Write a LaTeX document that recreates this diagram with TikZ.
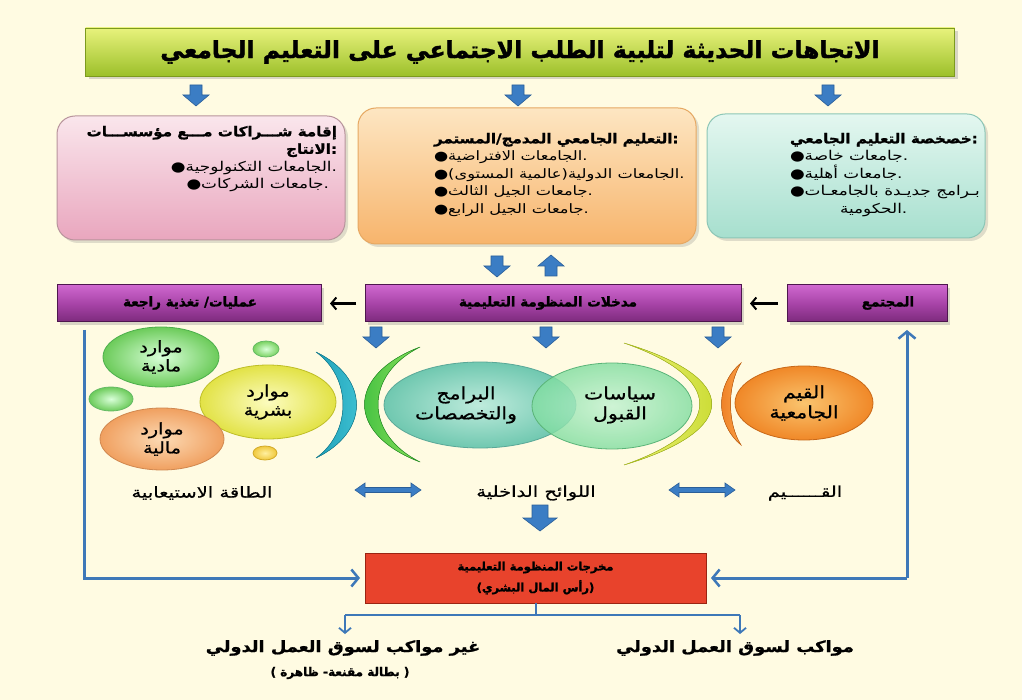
\documentclass[tikz,border=0pt]{standalone}
\usepackage{fontspec}
\newfontfamily\ar[Script=Arabic]{DejaVu Sans}
\newfontfamily\arI[Script=Arabic, FakeStretch=1.25]{DejaVu Sans}
\newfontfamily\arH[Script=Arabic, UprightFont={* Bold}, FakeStretch=1.12, FakeBold=1]{DejaVu Sans}
\newfontfamily\arT[Script=Arabic, UprightFont={* Bold}, FakeBold=1.5]{DejaVu Sans}
\newfontfamily\arO[Script=Arabic, UprightFont={* Bold}, FakeStretch=1.15, FakeBold=1]{DejaVu Sans}
\newfontfamily\arL[Script=Arabic, FakeStretch=1.3, FakeBold=0.6]{DejaVu Sans}
\newfontfamily\arE[Script=Arabic, FakeStretch=1.2, FakeBold=0.8]{DejaVu Sans}
\TeXXeTstate=1
\usetikzlibrary{shapes.geometric,arrows.meta,shadows,calc}
\newcommand{\artxt}[1]{{\beginR #1\endR}}
\definecolor{bgc}{HTML}{FFFBE2}
\definecolor{ttop}{HTML}{E8F27C}
\definecolor{tbot}{HTML}{9CC02A}
\definecolor{tedge}{HTML}{7C9A1E}
\definecolor{afill}{HTML}{3B7DC4}
\definecolor{aedge}{HTML}{2A5E98}
\definecolor{lblue}{HTML}{3E78B8}
\definecolor{pinkT}{HTML}{FAE6EC}
\definecolor{pinkB}{HTML}{E9A6BE}
\definecolor{pinkE}{HTML}{B8949C}
\definecolor{oraT}{HTML}{FDE6C2}
\definecolor{oraB}{HTML}{F7B46C}
\definecolor{oraE}{HTML}{E6A862}
\definecolor{tealT}{HTML}{E4F7F0}
\definecolor{tealB}{HTML}{A6DFCE}
\definecolor{tealE}{HTML}{8CC6B6}
\definecolor{purT}{HTML}{CF68CF}
\definecolor{purM}{HTML}{A844A8}
\definecolor{purB}{HTML}{7C2A7C}
\definecolor{purE}{HTML}{4E164E}
\definecolor{redF}{HTML}{E8432C}
\definecolor{redE}{HTML}{9A2412}
\tikzset{
  every node/.style={inner sep=0pt, outer sep=0pt},
  titlebox/.style={draw=tedge, line width=0.8pt, top color=ttop, bottom color=tbot,
    minimum width=869pt, minimum height=48pt,
    drop shadow={opacity=0.3, shadow xshift=3pt, shadow yshift=-3pt},
    font=\arT\fontsize{23.5}{26}\selectfont},
  topbox/.style={rounded corners=18pt, line width=1pt,
    drop shadow={opacity=0.25, shadow xshift=3pt, shadow yshift=-3pt}},
  boxtext/.style={font=\arI\fontsize{13.5}{17.5}\selectfont},
  purbar/.style={draw=purE, line width=1pt, top color=purT, bottom color=purB, middle color=purM,
    minimum height=37pt,
    drop shadow={opacity=0.3, shadow xshift=3pt, shadow yshift=-3pt}},
  purtext/.style={font=\arT\fontsize{13.5}{16}\selectfont},
  redbox/.style={draw=redE, line width=1pt, fill=redF, minimum width=341pt, minimum height=50pt,
    align=center, font=\arT\fontsize{11.5}{21}\selectfont},
  blob/.style={ellipse, line width=0.8pt, align=center,
    font=\arE\fontsize{16}{19}\selectfont},
  etext/.style={align=center, font=\arE\fontsize{17}{20}\selectfont},
  conn/.style={draw=lblue, line width=3pt, -{Straight Barb[length=7pt,width=17pt,line width=2.5pt]}},
  branch/.style={draw=lblue, line width=2pt},
  barr/.style={draw=lblue, line width=2pt, -{Straight Barb[length=5pt,width=12pt,line width=1.8pt]}},
  blk/.style={draw=black, line width=2.2pt, -{Straight Barb[length=5pt,width=12pt,line width=2pt]},
    shorten >=9pt, shorten <=9pt},
  lbl/.style={font=\arL\fontsize{15}{18}\selectfont},
  outl/.style={font=\arO\fontsize{15.5}{18}\selectfont},
  bdown/.pic={\draw[draw=aedge, fill=afill, line width=0.6pt, line join=miter]
     (-6,-10) -- (6,-10) -- (6,0) -- (13,0) -- (0,11) -- (-13,0) -- (-6,0) -- cycle;},
  bdownL/.pic={\draw[draw=aedge, fill=afill, line width=0.6pt, line join=miter]
     (-8,-13) -- (8,-13) -- (8,0) -- (17,0) -- (0,13) -- (-17,0) -- (-8,0) -- cycle;},
  dblarr/.pic={\draw[draw=aedge, fill=afill, line width=0.6pt, line join=miter]
     (-33,0) -- (-23,-7) -- (-23,-2.5) -- (23,-2.5) -- (23,-7) -- (33,0) -- (23,7) -- (23,2.5)
     -- (-23,2.5) -- (-23,7) -- cycle;},
}
\begin{document}
\begin{tikzpicture}[x=1pt,y=-1pt]
\fill[bgc] (0,0) rectangle (1022,700);
\useasboundingbox (0,0) rectangle (1022,700);

% title
\node[titlebox] (title) at (520,52) {\artxt{الاتجاهات الحديثة لتلبية الطلب الاجتماعي على  التعليم الجامعي}};
\pic (ta1) at (196,95) {bdown};
\pic (ta2) at (518,95) {bdown};
\pic (ta3) at (828,95) {bdown};

% top boxes
\node[topbox, draw=pinkE, top color=pinkT, bottom color=pinkB, minimum width=288pt, minimum height=124pt] (pink) at (201,178) {};
\node[topbox, draw=oraE, top color=oraT, bottom color=oraB, minimum width=338pt, minimum height=136pt] (orange) at (527,176) {};
\node[topbox, draw=tealE, top color=tealT, bottom color=tealB, minimum width=278pt, minimum height=124pt] (teal) at (846,176) {};

\node[boxtext, align=right, anchor=north east] (pinktx) at (337,126) {%
{\arH\artxt{إقامة شـــراكات مـــع مؤسســـات}}\\
{\arH\artxt{الانتاج}:}\hspace*{4pt}\\
●\artxt{الجامعات التكنولوجية}.\hspace*{8pt}\\
●\artxt{جامعات الشركات}.\hspace*{8pt}};
\node[boxtext, align=left, anchor=north west, font=\arI\fontsize{13}{17.5}\selectfont] (oratx) at (434,133) {%
{\arH\fontsize{13.5}{17.5}\selectfont\artxt{التعليم الجامعي المدمج/المستمر}:}\\
●\artxt{الجامعات الافتراضية}.\\
●\artxt{الجامعات الدولية(عالمية المستوى)}.\\
●\artxt{جامعات الجيل الثالث}.\\
●\artxt{جامعات الجيل الرابع}.};
\node[boxtext, align=left, anchor=north west] (tealtx) at (790,133) {%
{\arH\artxt{خصخصة التعليم الجامعي}:}\\
●\artxt{جامعات خاصة}.\\
●\artxt{جامعات أهلية}.\\
●\artxt{بـرامج جديـدة بالجامعـات}\\
\hspace*{50pt}\artxt{الحكومية}.};

% up / down arrows
\pic (ma1) at (497,266) {bdown};
\pic[yscale=-1] (ma2) at (551,266) {bdown};

% purple bars
\node[purbar, minimum width=264pt] (fb) at (189,303.5) {};
\node[purbar, minimum width=376pt] (inp) at (553,303.5) {};
\node[purbar, minimum width=160pt] (soc) at (867,303.5) {};
\node[purtext] (fbt) at (190,303) {\artxt{عمليات/ تغذية راجعة}};
\node[purtext] (inpt) at (548,303) {\artxt{مدخلات المنظومة التعليمية}};
\node[purtext] (soct) at (888,303) {\artxt{المجتمع}};
\draw[blk] (soc.west) -- (inp.east);
\draw[blk] (inp.west) -- (fb.east);

% arrows below bar
\pic (ba1) at (376,337) {bdown};
\pic (ba2) at (546,337) {bdown};
\pic (ba3) at (718,337) {bdown};

% resources
\node[blob, draw=green!55!black!70, inner color=green!15!white, outer color={rgb,255:red,108;green,203;blue,90},
  minimum width=116pt, minimum height=60pt] (mat) at (161,357) {\artxt{موارد}\\\artxt{مادية}};
\node[blob, draw=green!55!black!60, inner color=green!15!white, outer color={rgb,255:red,120;green,210;blue,95},
  minimum width=26pt, minimum height=16pt] (sg1) at (266,349) {};
\node[blob, draw=green!55!black!60, inner color=green!15!white, outer color={rgb,255:red,108;green,203;blue,90},
  minimum width=44pt, minimum height=24pt] (sg2) at (111,399) {};
\node[blob, draw={rgb,255:red,190;green,190;blue,40}, inner color={rgb,255:red,252;green,252;blue,190}, outer color={rgb,255:red,226;green,226;blue,70},
  minimum width=136pt, minimum height=74pt] (hum) at (268,402) {\artxt{موارد}\\\artxt{بشرية}};
\node[blob, draw={rgb,255:red,208;green,136;blue,80}, inner color={rgb,255:red,252;green,218;blue,180}, outer color={rgb,255:red,240;green,160;blue,96},
  minimum width=124pt, minimum height=62pt] (fin) at (162,439) {\artxt{موارد}\\\artxt{مالية}};
\node[blob, draw={rgb,255:red,210;green,170;blue,40}, inner color={rgb,255:red,255;green,240;blue,160}, outer color={rgb,255:red,240;green,200;blue,60},
  minimum width=24pt, minimum height=14pt] (sy) at (265,453) {};

% arcs
\fill[draw={rgb,255:red,20;green,130;blue,150}, line width=0.5pt, left color={rgb,255:red,30;green,160;blue,185}, right color={rgb,255:red,70;green,200;blue,215}]
  (316,352) .. controls (370,378) and (370,432) .. (316,458) .. controls (352,432) and (352,378) .. cycle;
\fill[draw={rgb,255:red,40;green,150;blue,40}, line width=0.5pt, left color={rgb,255:red,50;green,185;blue,60}, right color={rgb,255:red,140;green,225;blue,90}]
  (420,347) .. controls (346,375) and (346,434) .. (420,462) .. controls (364,434) and (364,375) .. cycle;
\fill[draw={rgb,255:red,170;green,190;blue,30}, line width=0.5pt, left color={rgb,255:red,235;green,240;blue,120}, right color={rgb,255:red,195;green,215;blue,35}]
  (624,343) .. controls (741,378) and (741,430) .. (624,465) .. controls (725,430) and (725,378) .. cycle;
\fill[draw={rgb,255:red,200;green,100;blue,20}, line width=0.5pt, left color={rgb,255:red,235;green,120;blue,30}, right color={rgb,255:red,250;green,160;blue,70}]
  (741,363) .. controls (715,385) and (715,423) .. (741,445) .. controls (727,423) and (727,385) .. cycle;

% central ellipses
\node[blob, draw={rgb,255:red,90;green,168;blue,152}, inner color={rgb,255:red,190;green,235;blue,220}, outer color={rgb,255:red,112;green,200;blue,176},
  minimum width=192pt, minimum height=86pt] (prog) at (480,405) {};
\node[blob, draw={rgb,255:red,90;green,180;blue,120}, fill opacity=0.8, inner color={rgb,255:red,195;green,242;blue,210}, outer color={rgb,255:red,128;green,221;blue,160},
  minimum width=160pt, minimum height=86pt] (adm) at (612,406) {};
\node[etext] (progt) at (466,405) {\artxt{البرامج}\\\artxt{والتخصصات}};
\node[etext] (admt) at (620,405) {\artxt{سياسات}\\\artxt{القبول}};
\node[blob, draw={rgb,255:red,200;green,104;blue,24}, inner color={rgb,255:red,250;green,196;blue,110}, outer color={rgb,255:red,240;green,136;blue,40},
  minimum width=138pt, minimum height=74pt, font=\arE\fontsize{17}{20}\selectfont] (val) at (804,403) {\artxt{القيم}\\\artxt{الجامعية}};

% labels row
\node[lbl] (cap) at (202,493) {\artxt{الطاقة الاستيعابية}};
\node[lbl] (reg) at (536,493) {\artxt{اللوائح الداخلية}};
\node[lbl] (qiy) at (805,493) {\artxt{القــــــيم}};
\pic (d1) at (388,490) {dblarr};
\pic (d2) at (702,490) {dblarr};
\pic (dn) at (540,518) {bdownL};

% outputs box
\node[redbox] (out) at (535.5,578) {\artxt{مخرجات المنظومة التعليمية}\\\artxt{(رأس المال البشري)}};
\coordinate (lc) at (84,578);
\coordinate (rc) at (907,578);
\draw[conn, shorten >=5pt] ($(fb.south -| lc)+(0,8)$) -- (lc) -- (out.west);
\draw[conn, shorten >=5pt] (rc) -- (out.east);
\draw[conn, shorten >=8pt] (rc) -- (soc.south -| rc);

% branches
\coordinate (bl) at (345,615);
\coordinate (br) at (740,615);
\node[outl] (nm) at (343,648) {\artxt{غير مواكب لسوق العمل الدولي}};
\node[font=\arT\fontsize{12}{16}\selectfont] (nm2) at (340,673) {\artxt{( بطالة مقنعة- ظاهرة )}};
\node[outl] (ym) at (735,648) {\artxt{مواكب لسوق العمل الدولي}};
\draw[branch] (out.south) -- (out.south |- bl);
\draw[branch] (bl) -- (br);
\draw[barr] (bl) -- ($(bl)+(0,19)$);
\draw[barr] (br) -- ($(br)+(0,19)$);
\end{tikzpicture}
\end{document}
